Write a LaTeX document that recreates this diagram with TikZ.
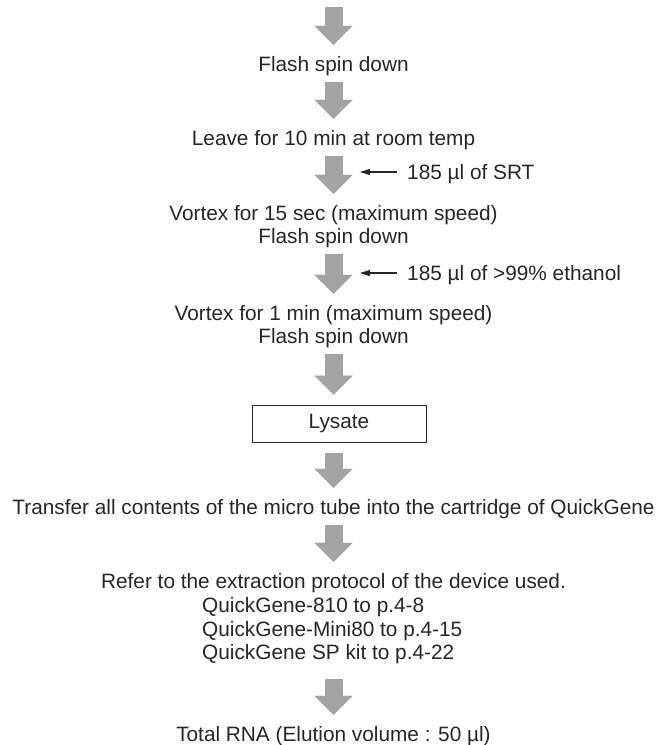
\documentclass[tikz,border=0pt]{standalone}
\usepackage{fontspec}
\setmainfont{Liberation Sans}
\usetikzlibrary{arrows.meta}

\definecolor{arrowgray}{gray}{0.64}
\definecolor{inkgray}{gray}{0.15}

\begin{document}
\begin{tikzpicture}[x=1pt,y=-1pt,
  txt/.style={inner sep=0pt,text height=15pt,text depth=5pt,
    font=\fontsize{20.8pt}{24pt}\selectfont,text=inkgray},
  flow/.style={draw=arrowgray,line width=18pt,
    -{Triangle[length=19pt,width=38pt,line width=0.01pt]},
    shorten <=6pt,shorten >=11pt},
  addin/.style={draw=inkgray,line width=1.3pt,
    -{Triangle[length=10pt,width=6pt]},shorten <=10pt},
  boxstep/.style={draw=inkgray,line width=1pt,inner sep=0pt,
    minimum width=174pt,minimum height=37pt,
    font=\fontsize{20.8pt}{24pt}\selectfont,text=inkgray}]

\useasboundingbox (0,0) rectangle (658,745);

% steps
\coordinate (top) at (333.5,7);
\node[txt,anchor=base] (flashA) at (333.5,71) {Flash spin down};
\node[txt,anchor=base] (leave) at (333.5,145) {Leave for 10 min at room temp};
\node[txt,anchor=base] (vortexA) at (333.5,220) {Vortex for 15 sec (maximum speed)};
\node[txt,anchor=base] (flashB) at (333.5,243) {Flash spin down};
\node[txt,anchor=base] (vortexB) at (333.5,320) {Vortex for 1 min (maximum speed)};
\node[txt,anchor=base] (flashC) at (333.5,343) {Flash spin down};
\node[boxstep] (lysate) at (339,423.5) {Lysate};
\node[txt,anchor=base] (transfer) at (333.5,514) {Transfer all contents of the micro tube into the cartridge of QuickGene};
\node[txt,anchor=base] (refer) at (333.5,588) {Refer to the extraction protocol of the device used.};
\node[txt,anchor=base west] (qgA) at (202,612) {QuickGene-810 to p.4-8};
\node[txt,anchor=base west] (qgB) at (202,636) {QuickGene-Mini80 to p.4-15};
\node[txt,anchor=base west] (qgC) at (202,659) {QuickGene SP kit to p.4-22};
\node[txt,anchor=base] (total) at (333.5,741) {Total RNA (Elution volume : 50 µl)};

% reagents added
\node[txt,anchor=west,text depth=0pt] (srt) at (407,172) {185 µl of SRT};
\coordinate (srtin) at (360,172);
\node[txt,anchor=west,text depth=0pt] (etoh) at (407,273) {185 µl of >99\% ethanol};
\coordinate (etohin) at (360,273);

% big gray arrows
\draw[flow,shorten <=0pt] (top) -- (flashA);
\draw[flow] (flashA) -- (leave);
\draw[flow] (leave) -- (vortexA);
\draw[flow] (flashB) -- (vortexB);
\draw[flow,shorten >=10pt] (flashC) -- (flashC |- lysate.north);
\draw[flow,shorten <=10pt] (transfer |- lysate.south) -- (transfer);
\draw[flow] (transfer) -- (refer);
\draw[flow,shorten <=15pt] (refer.south |- qgC.south) -- (total);

% small arrows
\draw[addin] (srt) -- (srtin);
\draw[addin] (etoh) -- (etohin);

\end{tikzpicture}
\end{document}
